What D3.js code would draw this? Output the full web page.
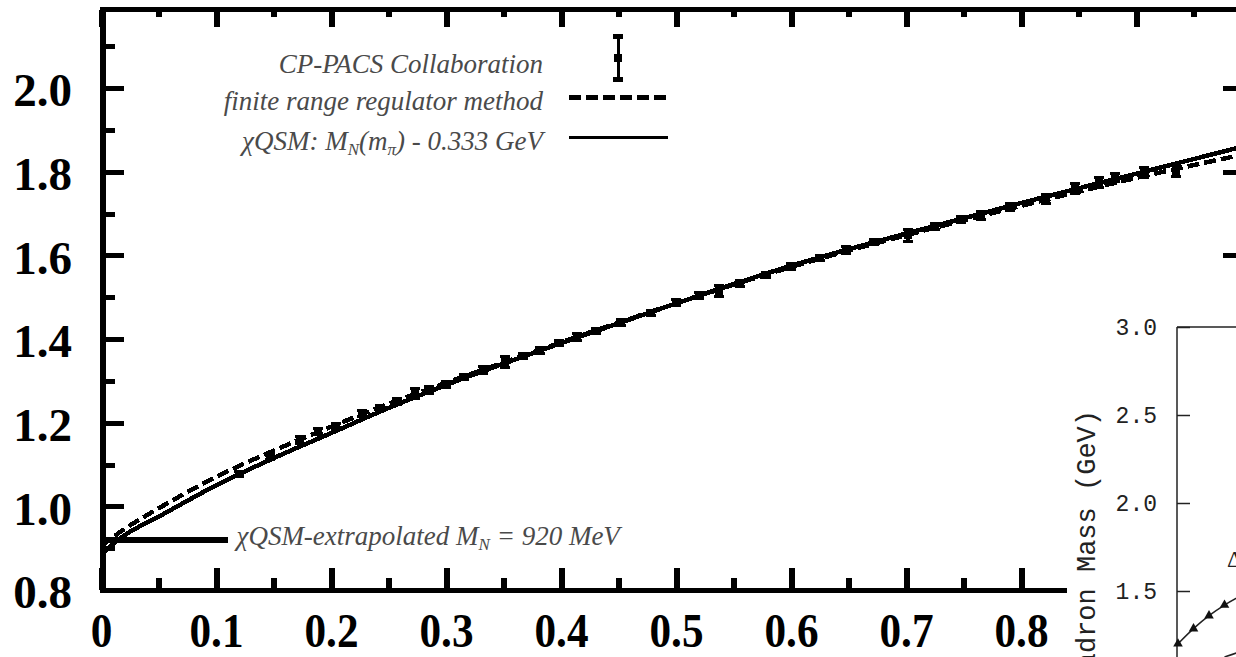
<!DOCTYPE html>
<html>
<head>
<meta charset="utf-8">
<script src="https://cdn.jsdelivr.net/npm/d3@7"></script>
<style>
  html, body { margin: 0; padding: 0; background: #fff; overflow: hidden; }
</style>
</head>
<body>
<svg id="chart" width="1236" height="657"></svg>
<script>
// Pion mass squared grid (GeV^2) for the two model curves
const curveMpi2 = [0, 0.02, 0.05, 0.1, 0.15, 0.2, 0.25, 0.3, 0.4, 0.5, 0.6, 0.7, 0.8, 0.9, 1.0];
// chiral quark soliton model: M_N(m_pi) - 0.333 GeV
const chiqsmMass = [0.885, 0.93, 0.975, 1.05, 1.115, 1.175, 1.235, 1.29, 1.39, 1.485, 1.575, 1.652, 1.725, 1.795, 1.865];
// finite range regulator fit
const frrMass = [0.905, 0.945, 0.995, 1.07, 1.133, 1.19, 1.245, 1.295, 1.392, 1.485, 1.572, 1.648, 1.718, 1.785, 1.845];

// CP-PACS lattice nucleon masses
const latticeMpi2 = [0.120, 0.147, 0.173, 0.189, 0.204, 0.227, 0.243, 0.257, 0.273, 0.285, 0.300, 0.316, 0.332, 0.351,
                     0.367, 0.382, 0.398, 0.414, 0.430, 0.452, 0.478, 0.500, 0.520, 0.537, 0.556, 0.578, 0.600, 0.625,
                     0.648, 0.672, 0.702, 0.725, 0.748, 0.765, 0.790, 0.822, 0.847, 0.868, 0.882, 0.907, 0.935];
const latticeMass = [1.078, 1.118, 1.158, 1.178, 1.192, 1.222, 1.236, 1.250, 1.270, 1.278, 1.292, 1.308, 1.326, 1.345,
                     1.360, 1.373, 1.390, 1.405, 1.420, 1.440, 1.463, 1.487, 1.503, 1.515, 1.533, 1.553, 1.574, 1.594,
                     1.612, 1.632, 1.648, 1.668, 1.686, 1.695, 1.716, 1.735, 1.760, 1.774, 1.786, 1.797, 1.802];
const latticeErr = [0.006, 0.006, 0.008, 0.007, 0.006, 0.008, 0.006, 0.007, 0.012, 0.008, 0.007, 0.006, 0.008, 0.014,
                    0.006, 0.007, 0.006, 0.008, 0.006, 0.007, 0.006, 0.008, 0.007, 0.014, 0.007, 0.006, 0.007, 0.006,
                    0.008, 0.007, 0.014, 0.007, 0.008, 0.010, 0.008, 0.010, 0.011, 0.011, 0.010, 0.012, 0.014];

// chiral-limit value marked by the horizontal bar
const extrapolatedMass = 0.92;
const extrapolatedBarEnd = 0.11;

// axis ticks
const xMajorTicks = [0, 0.1, 0.2, 0.3, 0.4, 0.5, 0.6, 0.7, 0.8, 0.9];
const xTickLabels = ["0", "0.1", "0.2", "0.3", "0.4", "0.5", "0.6", "0.7", "0.8", "0.9"];
const xMinorTicks = [0.05, 0.15, 0.25, 0.35, 0.45, 0.55, 0.65, 0.75, 0.85, 0.95];
const yMajorTicks = [0.8, 1.0, 1.2, 1.4, 1.6, 1.8, 2.0];
const yTickLabels = ["0.8", "1.0", "1.2", "1.4", "1.6", "1.8", "2.0"];
const yMinorTicks = [0.9, 1.1, 1.3, 1.5, 1.7, 1.9, 2.1];

// legend entries
const legendLabels = ["CP-PACS Collaboration", "finite range regulator method"];

// hadron mass panel (lower right)
const insetX = [0, 0.05, 0.1, 0.15, 0.2, 0.3, 0.4];
const deltaMass = [1.20, 1.286, 1.36, 1.42, 1.47, 1.55, 1.63];
const insetNucleonX = [0.15, 0.2, 0.3, 0.4];
const insetNucleonMass = [1.125, 1.155, 1.23, 1.31];
const insetTicks = [1.5, 2.0, 2.5, 3.0];
const insetTickLabels = ["1.5", "2.0", "2.5", "3.0"];

const SERIF = '"Liberation Serif", "Times New Roman", serif';
const MONO = '"Liberation Mono", "DejaVu Sans Mono", monospace';

const svg = d3.select("#chart");

const x = d3.scaleLinear().domain([0, 1]).range([101, 1251]);
const y = d3.scaleLinear().domain([0.8, 2.0]).range([590, 88]);

// plot clip
svg.append("defs").append("clipPath").attr("id", "plotClip")
  .append("rect").attr("x", 106).attr("y", 12).attr("width", 1145).attr("height", 576);

function styleTicks(g, w) {
  g.select(".domain").remove();
  g.selectAll(".tick line").attr("stroke", "#000").attr("stroke-width", w).attr("shape-rendering", "crispEdges");
}

// ---- axes ----
// bottom
const gBottom = svg.append("g").attr("transform", "translate(0,590)");
gBottom.call(d3.axisBottom(x).tickValues(xMajorTicks).tickSize(-22).tickPadding(22)
  .tickFormat((d, i) => xTickLabels[i]));
styleTicks(gBottom, 6);
gBottom.selectAll(".tick text")
  .style("font-family", SERIF).style("font-size", "48px").style("font-weight", "bold")
  .attr("fill", "#000").attr("dy", "0.71em").attr("y", 23)
  .each(function () {
    const len = this.getComputedTextLength();
    d3.select(this).attr("textLength", len * 0.9).attr("lengthAdjust", "spacingAndGlyphs");
  });
const gBottomMinor = svg.append("g").attr("transform", "translate(0,590)");
gBottomMinor.call(d3.axisBottom(x).tickValues(xMinorTicks).tickSize(-12).tickFormat(""));
styleTicks(gBottomMinor, 6);

// top
const gTop = svg.append("g").attr("transform", "translate(0,10)");
gTop.call(d3.axisTop(x).tickValues(xMajorTicks).tickSize(-17).tickFormat(""));
styleTicks(gTop, 6);
const gTopMinor = svg.append("g").attr("transform", "translate(0,10)");
gTopMinor.call(d3.axisTop(x).tickValues(xMinorTicks).tickSize(-7).tickFormat(""));
styleTicks(gTopMinor, 6);

// left
const gLeft = svg.append("g").attr("transform", "translate(103,0)");
gLeft.call(d3.axisLeft(y).tickValues(yMajorTicks).tickSize(-21).tickPadding(31)
  .tickFormat((d, i) => yTickLabels[i]));
styleTicks(gLeft, 5);
gLeft.selectAll(".tick text")
  .style("font-family", SERIF).style("font-size", "47px").style("font-weight", "bold")
  .attr("fill", "#000").attr("dy", "0.38em");
const gLeftMinor = svg.append("g").attr("transform", "translate(103,0)");
gLeftMinor.call(d3.axisLeft(y).tickValues(yMinorTicks).tickSize(-12).tickFormat(""));
styleTicks(gLeftMinor, 5);

// right
const gRight = svg.append("g").attr("transform", "translate(1251,0)");
gRight.call(d3.axisRight(y).tickValues(yMajorTicks).tickSize(-28).tickFormat(""));
styleTicks(gRight, 5);

// frame
const frame = svg.append("g").attr("stroke", "#000").attr("shape-rendering", "crispEdges");
frame.append("line").attr("x1", 103).attr("x2", 103).attr("y1", 7).attr("y2", 593).attr("stroke-width", 6);
frame.append("line").attr("x1", 100).attr("x2", 1254).attr("y1", 9.5).attr("y2", 9.5).attr("stroke-width", 5);
frame.append("line").attr("x1", 100).attr("x2", 1254).attr("y1", 590.5).attr("y2", 590.5).attr("stroke-width", 5);
frame.append("line").attr("x1", 1251).attr("x2", 1251).attr("y1", 7).attr("y2", 593).attr("stroke-width", 6);

// ---- curves and data ----
const plot = svg.append("g").attr("clip-path", "url(#plotClip)");

const massLine = d3.line().x((d, i) => x(curveMpi2[i])).y(d => y(d)).curve(d3.curveMonotoneX);

plot.append("path").datum(frrMass).attr("d", massLine)
  .attr("fill", "none").attr("stroke", "#000").attr("stroke-width", 4.5)
  .attr("stroke-dasharray", "12,5").attr("shape-rendering", "crispEdges");
plot.append("path").datum(chiqsmMass).attr("d", massLine)
  .attr("fill", "none").attr("stroke", "#000").attr("stroke-width", 4.5)
  .attr("shape-rendering", "crispEdges");

// lattice points with error bars
const pts = plot.append("g").attr("shape-rendering", "crispEdges");
latticeMpi2.forEach((m, i) => {
  const cx = x(m), cy = y(latticeMass[i]);
  const yHi = y(latticeMass[i] + latticeErr[i]), yLo = y(latticeMass[i] - latticeErr[i]);
  pts.append("line").attr("x1", cx).attr("x2", cx).attr("y1", yHi).attr("y2", yLo)
    .attr("stroke", "#000").attr("stroke-width", 4);
  pts.append("line").attr("x1", cx - 5).attr("x2", cx + 5).attr("y1", yHi).attr("y2", yHi)
    .attr("stroke", "#000").attr("stroke-width", 3);
  pts.append("line").attr("x1", cx - 5).attr("x2", cx + 5).attr("y1", yLo).attr("y2", yLo)
    .attr("stroke", "#000").attr("stroke-width", 3);
  pts.append("rect").attr("x", cx - 4).attr("y", cy - 4).attr("width", 8).attr("height", 8).attr("fill", "#000");
});

// chiral-limit bar
plot.append("line")
  .attr("x1", x(0)).attr("x2", x(extrapolatedBarEnd))
  .attr("y1", y(extrapolatedMass)).attr("y2", y(extrapolatedMass))
  .attr("stroke", "#000").attr("stroke-width", 6).attr("shape-rendering", "crispEdges");

const noteColor = "#4a4a4a";
const note = svg.append("text")
  .attr("x", x(extrapolatedBarEnd) + 9).attr("y", 545)
  .style("font-family", SERIF).style("font-size", "27px").style("font-style", "italic")
  .attr("fill", noteColor);
note.append("tspan").text("\u03c7QSM-extrapolated M");
note.append("tspan").style("font-size", "17px").attr("dy", 5).text("N");
note.append("tspan").attr("dy", -5).text(" = " + Math.round(extrapolatedMass * 1000) + " MeV");

// ---- legend ----
const legend = svg.append("g");
const legendRight = 543;
function legendText(yPos) {
  return legend.append("text").attr("x", legendRight).attr("y", yPos).attr("text-anchor", "end")
    .style("font-family", SERIF).style("font-size", "27px").style("font-style", "italic")
    .attr("fill", noteColor);
}
legendText(73).text(legendLabels[0]);
legendText(110).text(legendLabels[1]);
const l3 = legendText(150);
l3.append("tspan").text("\u03c7QSM: M");
l3.append("tspan").style("font-size", "17px").attr("dy", 5).text("N");
l3.append("tspan").attr("dy", -5).text("(m");
l3.append("tspan").style("font-size", "17px").attr("dy", 5).text("\u03c0");
l3.append("tspan").attr("dy", -5).text(") - 0.333 GeV");

const lg = legend.append("g").attr("stroke", "#000").attr("shape-rendering", "crispEdges");
// error-bar symbol
lg.append("line").attr("x1", 618).attr("x2", 618).attr("y1", 36).attr("y2", 79).attr("stroke-width", 3);
lg.append("line").attr("x1", 613).attr("x2", 623).attr("y1", 36).attr("y2", 36).attr("stroke-width", 5);
lg.append("line").attr("x1", 613).attr("x2", 623).attr("y1", 79).attr("y2", 79).attr("stroke-width", 5);
legend.append("rect").attr("x", 614).attr("y", 54).attr("width", 8).attr("height", 8).attr("fill", "#000");
// dashed and solid samples
lg.append("line").attr("x1", 569).attr("x2", 668).attr("y1", 97).attr("y2", 97)
  .attr("stroke-width", 5).attr("stroke-dasharray", "12,5");
lg.append("line").attr("x1", 569).attr("x2", 668).attr("y1", 137).attr("y2", 137).attr("stroke-width", 3);

// ---- hadron mass panel ----
const inset = svg.append("g");
inset.append("rect").attr("x", 1067).attr("y", 290).attr("width", 175).attr("height", 370).attr("fill", "#fff");

const ix = d3.scaleLinear().domain([0, 1]).range([1178, 1488]);
const iy = d3.scaleLinear().domain([1.5, 3.0]).range([591, 327]);

const gInsetY = inset.append("g").attr("transform", "translate(1177,0)");
gInsetY.call(d3.axisLeft(iy).tickValues(insetTicks).tickSize(-13).tickPadding(20)
  .tickFormat((d, i) => insetTickLabels[i]));
gInsetY.select(".domain").remove();
gInsetY.selectAll(".tick line").attr("stroke", "#222").attr("stroke-width", 1.5);
gInsetY.selectAll(".tick text").style("font-family", MONO).style("font-size", "23px").attr("fill", "#222");

inset.append("line").attr("x1", 1177).attr("x2", 1177).attr("y1", iy(3.0)).attr("y2", 660)
  .attr("stroke", "#222").attr("stroke-width", 1.5);
inset.append("line").attr("x1", 1177).attr("x2", 1240).attr("y1", iy(3.0)).attr("y2", iy(3.0))
  .attr("stroke", "#222").attr("stroke-width", 1.5);

inset.append("text")
  .attr("transform", "translate(1095,410) rotate(-90)")
  .attr("text-anchor", "end")
  .style("font-family", MONO).style("font-size", "27px").attr("fill", "#222")
  .text("Hadron Mass (GeV)");

const insetLine = d3.line().curve(d3.curveMonotoneX);
inset.append("path")
  .attr("d", insetLine(insetX.map((v, i) => [ix(v), iy(deltaMass[i])])))
  .attr("fill", "none").attr("stroke", "#222").attr("stroke-width", 1.5);
inset.append("path")
  .attr("d", insetLine(insetNucleonX.map((v, i) => [ix(v), iy(insetNucleonMass[i])])))
  .attr("fill", "none").attr("stroke", "#222").attr("stroke-width", 1.5);
const tri = d3.symbol().type(d3.symbolTriangle).size(40);
insetX.forEach((v, i) => {
  inset.append("path").attr("d", tri)
    .attr("transform", `translate(${ix(v)},${iy(deltaMass[i])})`).attr("fill", "#111");
});
inset.append("text").attr("x", 1227).attr("y", 567)
  .style("font-family", SERIF).style("font-size", "24px").attr("fill", "#222").text("\u0394");
</script>
</body>
</html>
